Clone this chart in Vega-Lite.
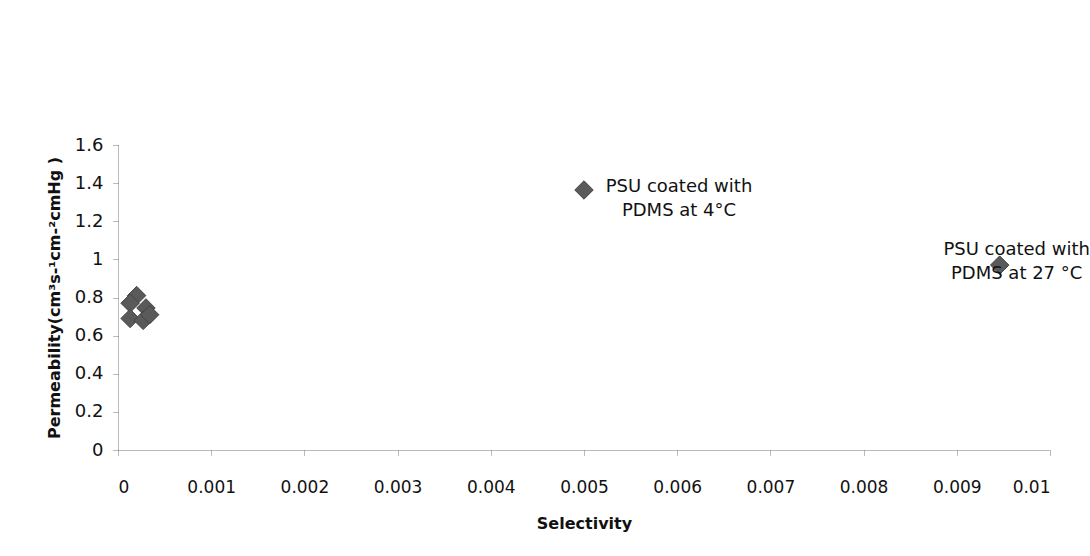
{
  "$schema": "https://vega.github.io/schema/vega-lite/v6.json",
  "autosize": "none",
  "width": 932,
  "height": 305,
  "padding": {"left": 118, "top": 145, "right": 40, "bottom": 106},
  "background": "white",
  "config": {
    "view": {"stroke": null},
    "font": "DejaVu Sans",
    "axis": {"grid": false, "domainColor": "#777", "domainDash": [1, 1], "tickColor": "#777", "tickDash": [1, 1], "labelColor": "#111", "titleColor": "#111", "labelFont": "DejaVu Sans", "titleFont": "DejaVu Sans"}
  },
  "data": {
    "values": [
      {"selectivity": 0.0002, "permeability": 0.81, "label": ""},
      {"selectivity": 0.00013, "permeability": 0.77, "label": ""},
      {"selectivity": 0.0003, "permeability": 0.745, "label": ""},
      {"selectivity": 0.00013, "permeability": 0.69, "label": ""},
      {"selectivity": 0.00027, "permeability": 0.68, "label": ""},
      {"selectivity": 0.00034, "permeability": 0.71, "label": ""},
      {"selectivity": 0.005, "permeability": 1.364, "label": "PSU coated with\nPDMS at 4°C"},
      {"selectivity": 0.00946, "permeability": 0.97, "label": "PSU coated with\nPDMS at 27 °C"}
    ]
  },
  "encoding": {
    "x": {
      "field": "selectivity", "type": "quantitative",
      "scale": {"domain": [0, 0.01], "nice": false, "zero": true},
      "axis": {"title": "Selectivity", "values": [0, 0.001, 0.002, 0.003, 0.004, 0.005, 0.006, 0.007, 0.008, 0.009, 0.01], "format": "~g", "labelFontSize": 17, "labelPadding": 24, "tickSize": 5, "titleFontSize": 16, "titleFontWeight": "bold", "titlePadding": 20}
    },
    "y": {
      "field": "permeability", "type": "quantitative",
      "scale": {"domain": [0, 1.6], "nice": false},
      "axis": {"title": "Permeability(cm³s-¹cm-²cmHg )", "values": [0, 0.2, 0.4, 0.6, 0.8, 1, 1.2, 1.4, 1.6], "format": "~g", "labelFontSize": 18, "labelPadding": 10, "tickSize": 5, "titleFontSize": 16, "titleFontWeight": "bold", "titlePadding": 12}
    }
  },
  "layer": [
    {
      "mark": {"type": "point", "shape": "diamond", "filled": true, "size": 340, "color": "#5a5a5a", "opacity": 1, "stroke": "#444", "strokeWidth": 1}
    },
    {
      "transform": [{"filter": "datum.selectivity == 0.005"}],
      "mark": {"type": "text", "align": "center", "baseline": "top", "lineBreak": "\n", "dx": 95, "dy": -12, "fontSize": 18, "lineHeight": 24, "color": "#111", "font": "DejaVu Sans"},
      "encoding": {"text": {"field": "label"}}
    },
    {
      "transform": [{"filter": "datum.selectivity == 0.00946"}],
      "mark": {"type": "text", "align": "center", "baseline": "top", "lineBreak": "\n", "dx": 17, "dy": -24, "fontSize": 18, "lineHeight": 24, "color": "#111", "font": "DejaVu Sans"},
      "encoding": {"text": {"field": "label"}}
    }
  ]
}
